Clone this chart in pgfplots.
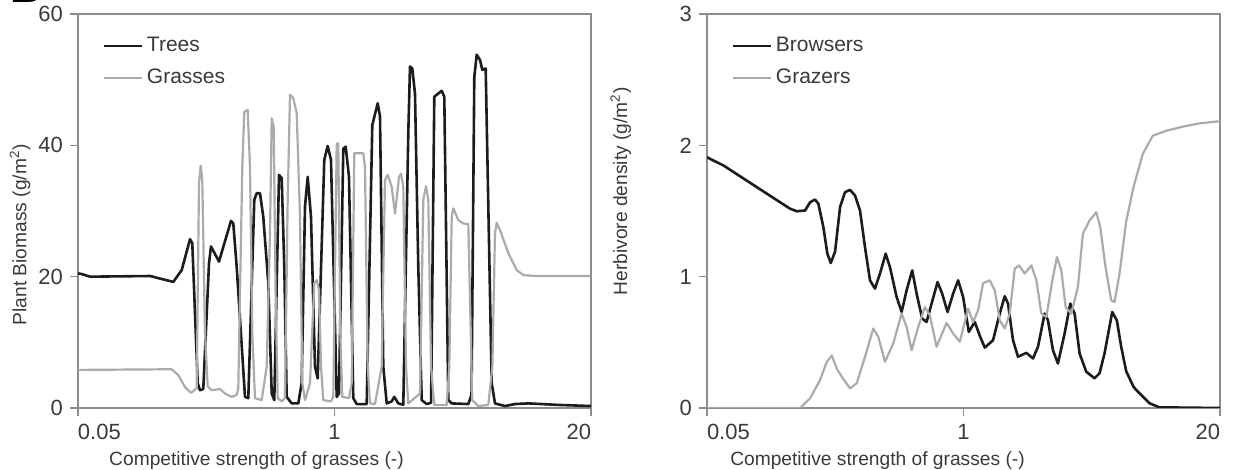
\documentclass[border=0pt]{standalone}
\usepackage{fontspec}
\setmainfont{Liberation Sans}
\usepackage{pgfplots}
\pgfplotsset{compat=1.18}
\definecolor{treec}{HTML}{1C1C1C}
\definecolor{grassc}{HTML}{ABABAB}
\definecolor{framec}{HTML}{8C8C8C}
\definecolor{txtc}{HTML}{3A3A3A}
\newcommand{\tickfont}{\fontsize{11}{13}\selectfont}
\newcommand{\lblfont}{\fontsize{9.6}{11.5}\selectfont}
\newcommand{\legfont}{\fontsize{10.5}{12.5}\selectfont}
\pgfplotsset{
  panel/.style={
    scale only axis, width=256.5pt, height=197pt,
    xmin=-1.30103, xmax=1.30103, ymin=0,
    xtick={-1.30103,0,1.30103},
    xticklabels={\rlap{0.05},1,\llap{20}},
    /pgf/number format/assume math mode=true,
    axis line style={framec, line width=0.8pt},
    tick style={framec, line width=0.8pt},
    tick align=outside, major tick length=4pt,
    xtick pos=bottom, ytick pos=left,
    ticklabel style={font=\tickfont, text=txtc},
    xticklabel style={yshift=-0.5pt},
    label style={font=\lblfont, text=txtc},
    xlabel={Competitive strength of grasses (-)},
    legend style={draw=none, fill=none, at={(0.035,0.962)}, anchor=north west,
      font=\legfont, text=txtc, row sep=3.2pt},
    legend cell align=left,
    legend image code/.code={\draw[##1] (0pt,0pt) -- (19pt,0pt);},
  }
}
\begin{document}
\begin{tikzpicture}
\useasboundingbox (0,0) rectangle (617.5pt,235pt);
\node[anchor=south west, inner sep=0pt, font=\bfseries\fontsize{22}{22}\selectfont] at (5pt,233.7pt) {B};
% ---------------- left panel ----------------
\begin{axis}[panel, at={(39pt,31pt)}, anchor=south west,
  ymax=60, ytick={0,20,40,60},
  xlabel style={xshift=-39pt, yshift=1pt},
  ylabel style={at={(axis description cs:-0.079,0.44)}, anchor=south},
  ylabel={Plant Biomass (g/m\textsuperscript{2})}]
\addplot[treec, line width=1.3pt, line join=round] coordinates {
(-1.3010,20.5) (-1.2823,20.4) (-1.2402,20.0) (-0.9358,20.1) (-0.8177,19.2)
(-0.7750,21.0) (-0.7329,25.7) (-0.7213,25.1) (-0.6939,3.8) (-0.6822,2.7)
(-0.6655,2.9) (-0.6366,22.0) (-0.6264,24.6) (-0.5859,22.3) (-0.5250,28.5)
(-0.5133,28.1) (-0.4961,21.5) (-0.4540,1.7) (-0.4372,1.5) (-0.4068,31.7)
(-0.3946,32.7) (-0.3779,32.7) (-0.3612,29.1) (-0.3358,19.0) (-0.3185,2.2)
(-0.3054,1.2) (-0.2815,35.5) (-0.2678,35.0) (-0.2546,21.5) (-0.2425,1.7)
(-0.2171,0.7) (-0.1836,0.7) (-0.1666,3.8) (-0.1496,30.7) (-0.1359,35.2)
(-0.1192,29.1) (-0.0989,6.3) (-0.0852,4.5) (-0.0518,37.8) (-0.0345,39.9)
(-0.0178,37.8) (0.0112,1.7) (0.0228,2.2) (0.0446,39.5) (0.0568,39.8)
(0.0735,35.2) (0.0953,1.5) (0.1126,0.6) (0.1633,0.6) (0.1917,43.1)
(0.2191,46.4) (0.2308,44.4) (0.2475,6.3) (0.2648,0.7) (0.2901,1.0)
(0.3033,1.7) (0.3236,0.7) (0.3490,0.5) (0.3743,41.8) (0.3829,52.0)
(0.3946,51.7) (0.4083,47.9) (0.4250,21.5) (0.4423,1.2) (0.4676,0.6)
(0.4900,0.8) (0.5062,47.4) (0.5184,47.7) (0.5437,48.3) (0.5569,47.4)
(0.5772,1.2) (0.5945,0.7) (0.6787,0.6) (0.6950,2.0) (0.7091,50.4)
(0.7213,53.8) (0.7380,53.0) (0.7497,51.5) (0.7669,51.7) (0.7973,3.8)
(0.8141,0.7) (0.8648,0.3) (0.9155,0.6) (0.9830,0.7) (1.1438,0.46)
(1.3010,0.3)
};
\addlegendentry{Trees}
\addplot[grassc, line width=1.1pt, line join=round] coordinates {
(-1.3010,5.8) (-0.8258,5.9) (-0.7923,5.0) (-0.7583,3.2) (-0.7279,2.3)
(-0.6990,3.0) (-0.6873,34.2) (-0.6787,36.9) (-0.6706,34.7) (-0.6569,11.4)
(-0.6432,3.3) (-0.6229,2.7) (-0.5808,2.9) (-0.5554,2.2) (-0.5214,1.7)
(-0.4961,2.0) (-0.4880,3.0) (-0.4677,36.7) (-0.4575,45.1) (-0.4403,45.4)
(-0.4286,36.7) (-0.4169,11.4) (-0.4033,1.5) (-0.3693,1.2) (-0.3439,6.3)
(-0.3272,26.6) (-0.3185,44.1) (-0.3084,42.8) (-0.2983,16.4) (-0.2881,1.5)
(-0.2678,1.0) (-0.2511,1.5) (-0.2374,31.7) (-0.2257,47.7) (-0.2090,47.2)
(-0.1917,44.9) (-0.1750,29.1) (-0.1633,3.8) (-0.1496,1.2) (-0.1243,3.8)
(-0.1025,19.0) (-0.0903,19.5) (-0.0786,18.0) (-0.0685,6.3) (-0.0568,1.2)
(-0.0178,1.0) (-0.0061,1.7) (0.0112,40.3) (0.0193,40.3) (0.0294,11.4)
(0.0396,1.7) (0.0735,1.5) (0.0872,3.8) (0.1004,38.8) (0.1461,38.8)
(0.1547,36.7) (0.1684,6.3) (0.1801,0.7) (0.2054,0.6) (0.2394,6.3)
(0.2561,34.7) (0.2698,35.5) (0.2901,33.7) (0.3069,29.6) (0.3272,35.2)
(0.3373,35.7) (0.3490,33.7) (0.3627,6.3) (0.3743,0.7) (0.4337,2.2)
(0.4504,31.7) (0.4641,33.8) (0.4758,31.7) (0.4895,6.3) (0.5062,0.46)
(0.5691,0.46) (0.5820,6.0) (0.5945,29.1) (0.6026,30.4) (0.6279,28.6)
(0.6533,28.1) (0.6787,28.0) (0.6989,1.2) (0.7294,0.3) (0.7801,0.46)
(0.8006,6.3) (0.8141,26.6) (0.8227,28.2) (0.8394,27.1) (0.8815,23.6)
(0.9241,21.0) (0.9576,20.25) (1.0170,20.1) (1.3010,20.1)
};
\addlegendentry{Grasses}
\end{axis}
% ---------------- right panel ----------------
\begin{axis}[panel, at={(353.5pt,31pt)}, anchor=south west,
  ymax=3, ytick={0,1,2,3},
  xlabel style={xshift=-43pt, yshift=1pt},
  ylabel style={at={(axis description cs:-0.134,0.55)}, anchor=south},
  ylabel={Herbivore density (g/m\textsuperscript{2})}]
\addplot[treec, line width=1.3pt, line join=round] coordinates {
(-1.3010,1.91) (-1.2843,1.896) (-1.2170,1.846) (-1.0479,1.681) (-0.8793,1.517)
(-0.8454,1.498) (-0.8034,1.504) (-0.7781,1.567) (-0.7528,1.587) (-0.7361,1.555)
(-0.7108,1.377) (-0.6905,1.175) (-0.6733,1.104) (-0.6515,1.19) (-0.6262,1.529)
(-0.6009,1.643) (-0.5756,1.661) (-0.5503,1.618) (-0.5250,1.504) (-0.4997,1.225)
(-0.4743,0.972) (-0.4490,0.909) (-0.4237,1.023) (-0.3949,1.175) (-0.3731,1.073)
(-0.3392,0.845) (-0.3139,0.731) (-0.2886,0.896) (-0.2602,1.048) (-0.2379,0.871)
(-0.2096,0.681) (-0.1873,0.655) (-0.1620,0.795) (-0.1316,0.959) (-0.1083,0.871)
(-0.0810,0.731) (-0.0526,0.871) (-0.0273,0.972) (-0.0020,0.845) (0.0268,0.580)
(0.0572,0.655) (0.0825,0.55) (0.1078,0.46) (0.1499,0.516) (0.1838,0.719)
(0.2091,0.851) (0.2258,0.795) (0.2511,0.516) (0.2764,0.390) (0.3189,0.420)
(0.3524,0.377) (0.3777,0.466) (0.4116,0.719) (0.4283,0.668) (0.4536,0.440)
(0.4789,0.339) (0.5128,0.567) (0.5417,0.795) (0.5635,0.719) (0.5888,0.415)
(0.6227,0.276) (0.6647,0.226) (0.6900,0.264) (0.7153,0.415) (0.7543,0.731)
(0.7776,0.668) (0.7999,0.466) (0.8252,0.28) (0.8621,0.162) (0.8758,0.137)
(0.9431,0.036) (0.9938,0.005) (1.3010,0.0)
};
\addlegendentry{Browsers}
\addplot[grassc, line width=1.1pt, line join=round] coordinates {
(-1.3010,0.0) (-0.8287,0.0) (-0.7781,0.074) (-0.7275,0.213) (-0.6935,0.352)
(-0.6682,0.40) (-0.6429,0.30) (-0.6176,0.238) (-0.5756,0.150) (-0.5417,0.188)
(-0.4997,0.390) (-0.4576,0.605) (-0.4323,0.542) (-0.3984,0.352) (-0.3564,0.491)
(-0.3139,0.719) (-0.2886,0.617) (-0.2632,0.440) (-0.2298,0.617) (-0.1959,0.769)
(-0.1706,0.706) (-0.1367,0.466) (-0.0861,0.648) (-0.0526,0.567) (-0.0187,0.504)
(0.0233,0.757) (0.0486,0.655) (0.0739,0.744) (0.0992,0.95) (0.1332,0.972)
(0.1585,0.896) (0.1838,0.668) (0.2091,0.605) (0.2344,0.719) (0.2597,1.061)
(0.2815,1.086) (0.3103,1.023) (0.3443,1.086) (0.3696,0.972) (0.3949,0.719)
(0.4202,0.693) (0.4506,0.972) (0.4739,1.149) (0.4961,1.048) (0.5179,0.769)
(0.5467,0.719) (0.5802,0.921) (0.6055,1.327) (0.6394,1.428) (0.6733,1.491)
(0.6936,1.377) (0.7204,1.073) (0.7492,0.820) (0.7660,0.807) (0.7913,1.023)
(0.8252,1.42) (0.8621,1.681) (0.9092,1.934) (0.9598,2.073) (1.0277,2.111)
(1.1117,2.142) (1.1963,2.167) (1.2889,2.182) (1.3010,2.183)
};
\addlegendentry{Grazers}
\end{axis}
\end{tikzpicture}
\end{document}
